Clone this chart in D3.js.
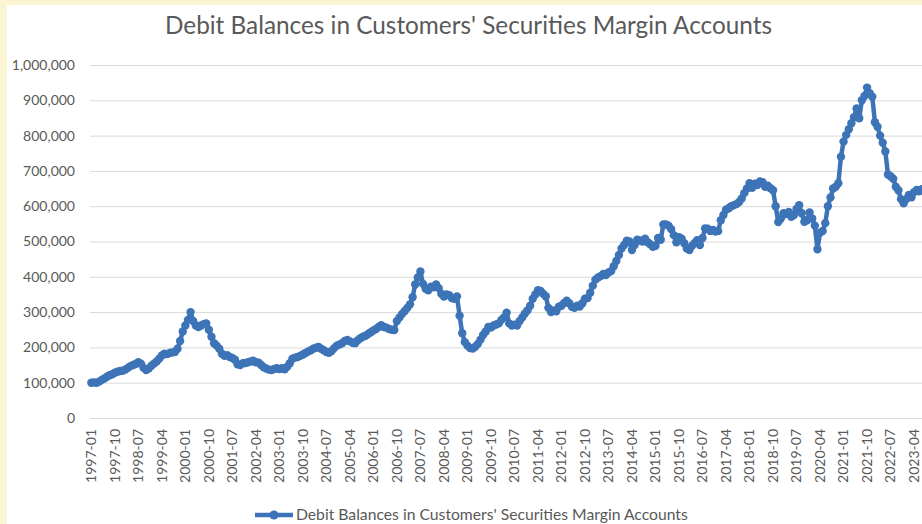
<!DOCTYPE html>
<html>
<head>
<meta charset="utf-8">
<script src="https://cdn.jsdelivr.net/npm/d3@7"></script>
<style>
  html, body { margin: 0; padding: 0; background: #fcf5d4; }
  svg { display: block; }
</style>
</head>
<body>
<svg id="chart" width="922" height="524"></svg>
<script>
// Monthly debit balances in customers' securities margin accounts ($ millions), 1997-01 onward
const years = d3.range(1997, 2024);
const monthNums = ["01","02","03","04","05","06","07","08","09","10","11","12"];

const debitBalances = [
  // 1997
  100000, 101000, 100000, 103000, 108000, 112000, 117000, 121000, 124000, 128000, 131000, 133000,
  // 1998
  134000, 137000, 142000, 147000, 150000, 153000, 158000, 154000, 142000, 136000, 140000, 148000,
  // 1999
  154000, 160000, 168000, 177000, 182000, 181000, 184000, 186000, 187000, 196000, 218000, 245000,
  // 2000
  262000, 278000, 300000, 275000, 262000, 258000, 262000, 266000, 268000, 250000, 230000, 212000,
  // 2001
  205000, 196000, 182000, 176000, 178000, 173000, 170000, 165000, 152000, 150000, 155000, 156000,
  // 2002
  158000, 160000, 162000, 158000, 157000, 150000, 144000, 140000, 137000, 136000, 139000, 141000,
  // 2003
  139000, 141000, 138000, 145000, 155000, 168000, 171000, 173000, 176000, 180000, 184000, 188000,
  // 2004
  192000, 196000, 199000, 201000, 196000, 192000, 187000, 185000, 190000, 198000, 205000, 208000,
  // 2005
  212000, 218000, 221000, 217000, 213000, 212000, 220000, 226000, 230000, 233000, 238000, 243000,
  // 2006
  248000, 252000, 258000, 263000, 258000, 256000, 252000, 250000, 249000, 275000, 285000, 295000,
  // 2007
  303000, 312000, 322000, 342000, 378000, 398000, 415000, 380000, 366000, 362000, 372000, 370000,
  // 2008
  378000, 368000, 352000, 344000, 350000, 348000, 340000, 338000, 344000, 290000, 240000, 215000,
  // 2009
  205000, 198000, 197000, 202000, 210000, 222000, 235000, 245000, 258000, 256000, 262000, 265000,
  // 2010
  268000, 278000, 285000, 298000, 268000, 262000, 264000, 262000, 275000, 285000, 296000, 305000,
  // 2011
  318000, 338000, 350000, 362000, 360000, 352000, 345000, 312000, 300000, 305000, 302000, 315000,
  // 2012
  318000, 326000, 332000, 325000, 315000, 312000, 318000, 316000, 325000, 338000, 340000, 355000,
  // 2013
  375000, 392000, 398000, 402000, 408000, 405000, 412000, 416000, 430000, 445000, 462000, 480000,
  // 2014
  490000, 502000, 500000, 476000, 490000, 505000, 503000, 500000, 508000, 498000, 492000, 485000,
  // 2015
  488000, 510000, 505000, 548000, 548000, 545000, 535000, 518000, 498000, 512000, 508000, 495000,
  // 2016
  480000, 476000, 488000, 496000, 504000, 490000, 510000, 537000, 536000, 530000, 533000, 528000,
  // 2017
  530000, 560000, 575000, 590000, 594000, 600000, 603000, 606000, 612000, 622000, 637000, 650000,
  // 2018
  665000, 652000, 664000, 660000, 670000, 668000, 655000, 658000, 651000, 645000, 600000, 555000,
  // 2019
  565000, 580000, 578000, 584000, 570000, 575000, 592000, 603000, 580000, 556000, 560000, 582000,
  // 2020
  565000, 545000, 478000, 525000, 530000, 552000, 600000, 625000, 650000, 655000, 665000, 740000,
  // 2021
  783000, 802000, 818000, 835000, 852000, 877000, 849000, 900000, 912000, 936000, 920000, 910000,
  // 2022
  838000, 825000, 800000, 780000, 755000, 690000, 685000, 678000, 655000, 645000, 620000, 608000,
  // 2023
  620000, 632000, 625000, 640000, 646000, 642000, 648000
];

const months = years.flatMap(y => monthNums.map(m => `${y}-${m}`)).slice(0, debitBalances.length);

const xTickLabels = [
  "1997-01","1997-10","1998-07","1999-04","2000-01","2000-10","2001-07","2002-04",
  "2003-01","2003-10","2004-07","2005-04","2006-01","2006-10","2007-07","2008-04",
  "2009-01","2009-10","2010-07","2011-04","2012-01","2012-10","2013-07","2014-04",
  "2015-01","2015-10","2016-07","2017-04","2018-01","2018-10","2019-07","2020-04",
  "2021-01","2021-10","2022-07","2023-04"
];
const yTickValues = [0, 100000, 200000, 300000, 400000, 500000, 600000, 700000, 800000, 900000, 1000000];

const seriesName = "Debit Balances in Customers' Securities Margin Accounts";
const chartTitle = "Debit Balances in Customers' Securities Margin Accounts";

const lineColor = "#3d74b8";
const textColor = "#595959";
const gridColor = "#d9d9d9";
const fontFamily = "Lato, 'Open Sans', sans-serif";

const svg = d3.select("#chart");
const W = 922, H = 524;

// white chart area
svg.append("rect")
  .attr("x", 7).attr("y", 5)
  .attr("width", W - 7).attr("height", H - 5)
  .attr("fill", "#ffffff");

const plotLeft = 90, plotTop = 65, plotBottom = 418;
const bandStep = 2.612;

const x = d3.scaleBand()
  .domain(months)
  .range([plotLeft, plotLeft + bandStep * months.length])
  .padding(0);

const y = d3.scaleLinear()
  .domain([0, 1000000])
  .range([plotBottom, plotTop]);

const cx = d => x(d) + x.bandwidth() / 2;

// y axis with gridlines
const yAxis = svg.append("g")
  .attr("transform", `translate(${plotLeft},0)`)
  .call(d3.axisLeft(y)
    .tickValues(yTickValues)
    .tickFormat(d3.format(","))
    .tickSize(-(W - plotLeft))
    .tickPadding(15));
yAxis.select(".domain").remove();
yAxis.selectAll(".tick line").attr("stroke", gridColor).attr("stroke-width", 1);
yAxis.selectAll(".tick text")
  .attr("fill", textColor)
  .attr("font-family", fontFamily)
  .attr("font-size", 14);

// x axis (category labels every 9 months)
const xAxis = svg.append("g")
  .attr("transform", `translate(0,${plotBottom})`)
  .call(d3.axisBottom(x).tickValues(xTickLabels).tickSize(0));
xAxis.select(".domain").remove();
xAxis.selectAll(".tick")
  .attr("transform", d => `translate(${cx(d)},0)`);
xAxis.selectAll(".tick text")
  .attr("fill", textColor)
  .attr("font-family", fontFamily)
  .attr("font-size", 14)
  .attr("text-anchor", "end")
  .attr("transform", "translate(0,11) rotate(-90)")
  .attr("x", 0)
  .attr("y", 0)
  .attr("dy", "0.35em");

// series line with markers
const points = months.map((m, i) => ({ m, v: debitBalances[i] }));

svg.append("path")
  .datum(points)
  .attr("fill", "none")
  .attr("stroke", lineColor)
  .attr("stroke-width", 4.5)
  .attr("stroke-linejoin", "round")
  .attr("d", d3.line().x(d => cx(d.m)).y(d => y(d.v)));

svg.append("g")
  .selectAll("circle")
  .data(points)
  .join("circle")
  .attr("cx", d => cx(d.m))
  .attr("cy", d => y(d.v))
  .attr("r", 4.2)
  .attr("fill", lineColor);

// fit a text element's font size to a target width
function fitWidth(sel, target) {
  const w = sel.node().getComputedTextLength();
  const fs = parseFloat(sel.attr("font-size"));
  if (w > 0) sel.attr("font-size", (fs * target / w).toFixed(2));
}

// title
const title = svg.append("text")
  .attr("x", 468.5)
  .attr("y", 34)
  .attr("text-anchor", "middle")
  .attr("fill", textColor)
  .attr("font-family", fontFamily)
  .attr("font-size", 22)
  .text(chartTitle);
fitWidth(title, 607);

// legend
const legend = svg.append("g");
legend.append("line")
  .attr("x1", 255).attr("x2", 293)
  .attr("y1", 515).attr("y2", 515)
  .attr("stroke", lineColor)
  .attr("stroke-width", 4.5);
legend.append("circle")
  .attr("cx", 274).attr("cy", 515).attr("r", 4.5)
  .attr("fill", lineColor);
const legendText = legend.append("text")
  .attr("x", 296)
  .attr("y", 520)
  .attr("fill", textColor)
  .attr("font-family", fontFamily)
  .attr("font-size", 15)
  .text(seriesName);
fitWidth(legendText, 392);
</script>
</body>
</html>
